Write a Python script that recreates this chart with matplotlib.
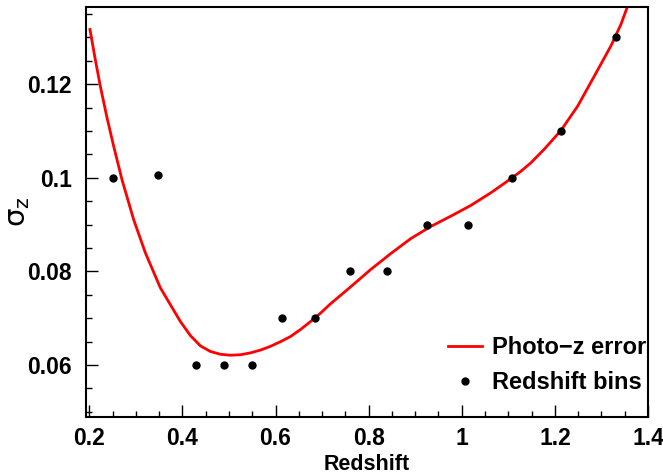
import numpy as np
import matplotlib
matplotlib.use('Agg')
import matplotlib.pyplot as plt
from matplotlib.lines import Line2D
from matplotlib.ticker import MultipleLocator, FixedLocator, FixedFormatter

# redshift bins (points)
bin_z = [0.25, 0.348, 0.43, 0.49, 0.55, 0.614, 0.684, 0.76, 0.839, 0.925, 1.013, 1.108, 1.213, 1.331]
bin_sigma = [0.100, 0.1006, 0.060, 0.060, 0.060, 0.070, 0.070, 0.080, 0.080, 0.090, 0.090, 0.100, 0.110, 0.130]

# photo-z error curve
curve_z = [0.2015, 0.2129, 0.2237, 0.2380, 0.2523, 0.2703, 0.2953, 0.3204, 0.3527, 0.3742,
           0.3957, 0.4172, 0.4387, 0.4602, 0.4817, 0.5032, 0.5247, 0.5462, 0.5677, 0.5892,
           0.6108, 0.6323, 0.6538, 0.6753, 0.6968, 0.7183, 0.7398, 0.7613, 0.8043, 0.8473,
           0.8903, 0.9333, 0.9763, 1.0194, 1.0624, 1.0983, 1.1269, 1.1484, 1.1770, 1.2129,
           1.2488, 1.2845, 1.3204, 1.3419, 1.3563]
curve_sigma = [0.1317, 0.1253, 0.1196, 0.1129, 0.1068, 0.0996, 0.0911, 0.0840, 0.0765, 0.0729,
               0.0693, 0.0663, 0.0641, 0.0629, 0.0623, 0.0621, 0.0622, 0.0626, 0.0632, 0.0640,
               0.0650, 0.0661, 0.0676, 0.0693, 0.0711, 0.0731, 0.0749, 0.0767, 0.0804, 0.0838,
               0.0870, 0.0896, 0.0918, 0.0941, 0.0968, 0.0993, 0.1014, 0.1032, 0.1061, 0.1101,
               0.1153, 0.1217, 0.1282, 0.1328, 0.1367]

y_ticks = [0.06, 0.08, 0.1, 0.12]
y_tick_labels = ['0.06', '0.08', '0.1', '0.12']
x_ticks = [0.2, 0.4, 0.6, 0.8, 1.0, 1.2, 1.4]
x_tick_labels = ['0.2', '0.4', '0.6', '0.8', '1', '1.2', '1.4']

plt.rcParams['font.family'] = ['Liberation Sans', 'DejaVu Sans']
plt.rcParams['mathtext.fontset'] = 'dejavusans'

fig = plt.figure(figsize=(6.63, 4.75), dpi=100, facecolor='white')
ax = fig.add_axes([86/663, 58/475, (648-86)/663, (417-7)/475])

ax.plot(curve_z, curve_sigma, color='#ff0000', linewidth=2.0, solid_joinstyle='round')
ax.plot(bin_z, bin_sigma, 'o', color='black', markersize=5, linestyle='none')

ax.set_xlim(0.193, 1.4)
ax.set_ylim(0.0489, 0.1365)

ax.xaxis.set_major_locator(FixedLocator(x_ticks))
ax.xaxis.set_major_formatter(FixedFormatter(x_tick_labels))
ax.xaxis.set_minor_locator(MultipleLocator(0.05))
ax.yaxis.set_major_locator(FixedLocator(y_ticks))
ax.yaxis.set_major_formatter(FixedFormatter(y_tick_labels))
ax.yaxis.set_minor_locator(MultipleLocator(0.005))

for s in ax.spines.values():
    s.set_linewidth(1.5)
    s.set_color('black')

ax.tick_params(which='both', direction='in', top=False, right=False, width=1.0)
ax.tick_params(which='major', length=8.5)
ax.tick_params(which='minor', length=4.5)
ax.tick_params(axis='x', which='major', pad=7, labelsize=16.5)
ax.tick_params(axis='y', which='major', pad=10, labelsize=16.5)
for lab in ax.get_xticklabels() + ax.get_yticklabels():
    lab.set_fontweight('bold')

ax.set_xlabel('Redshift', fontsize=15.5, fontweight='bold', labelpad=3)
ax.set_ylabel(r'$\mathrm{\sigma_{z}}$', fontsize=21)
ax.yaxis.set_label_coords(-0.096, 0.5)

handles = [Line2D([], [], color='#ff0000', linewidth=2.0),
           Line2D([], [], marker='o', color='black', markersize=5, linestyle='none')]
leg = ax.legend(handles, ['Photo\u2212z error', 'Redshift bins'],
                loc='upper left', bbox_to_anchor=((448-86)/(648-86), (417-336)/(417-7)),
                frameon=False, prop={'size': 17, 'weight': 'bold'},
                handlelength=1.45, handletextpad=0.4, labelspacing=0.5,
                borderpad=0, borderaxespad=0)

fig.savefig('out.png', dpi=100)
